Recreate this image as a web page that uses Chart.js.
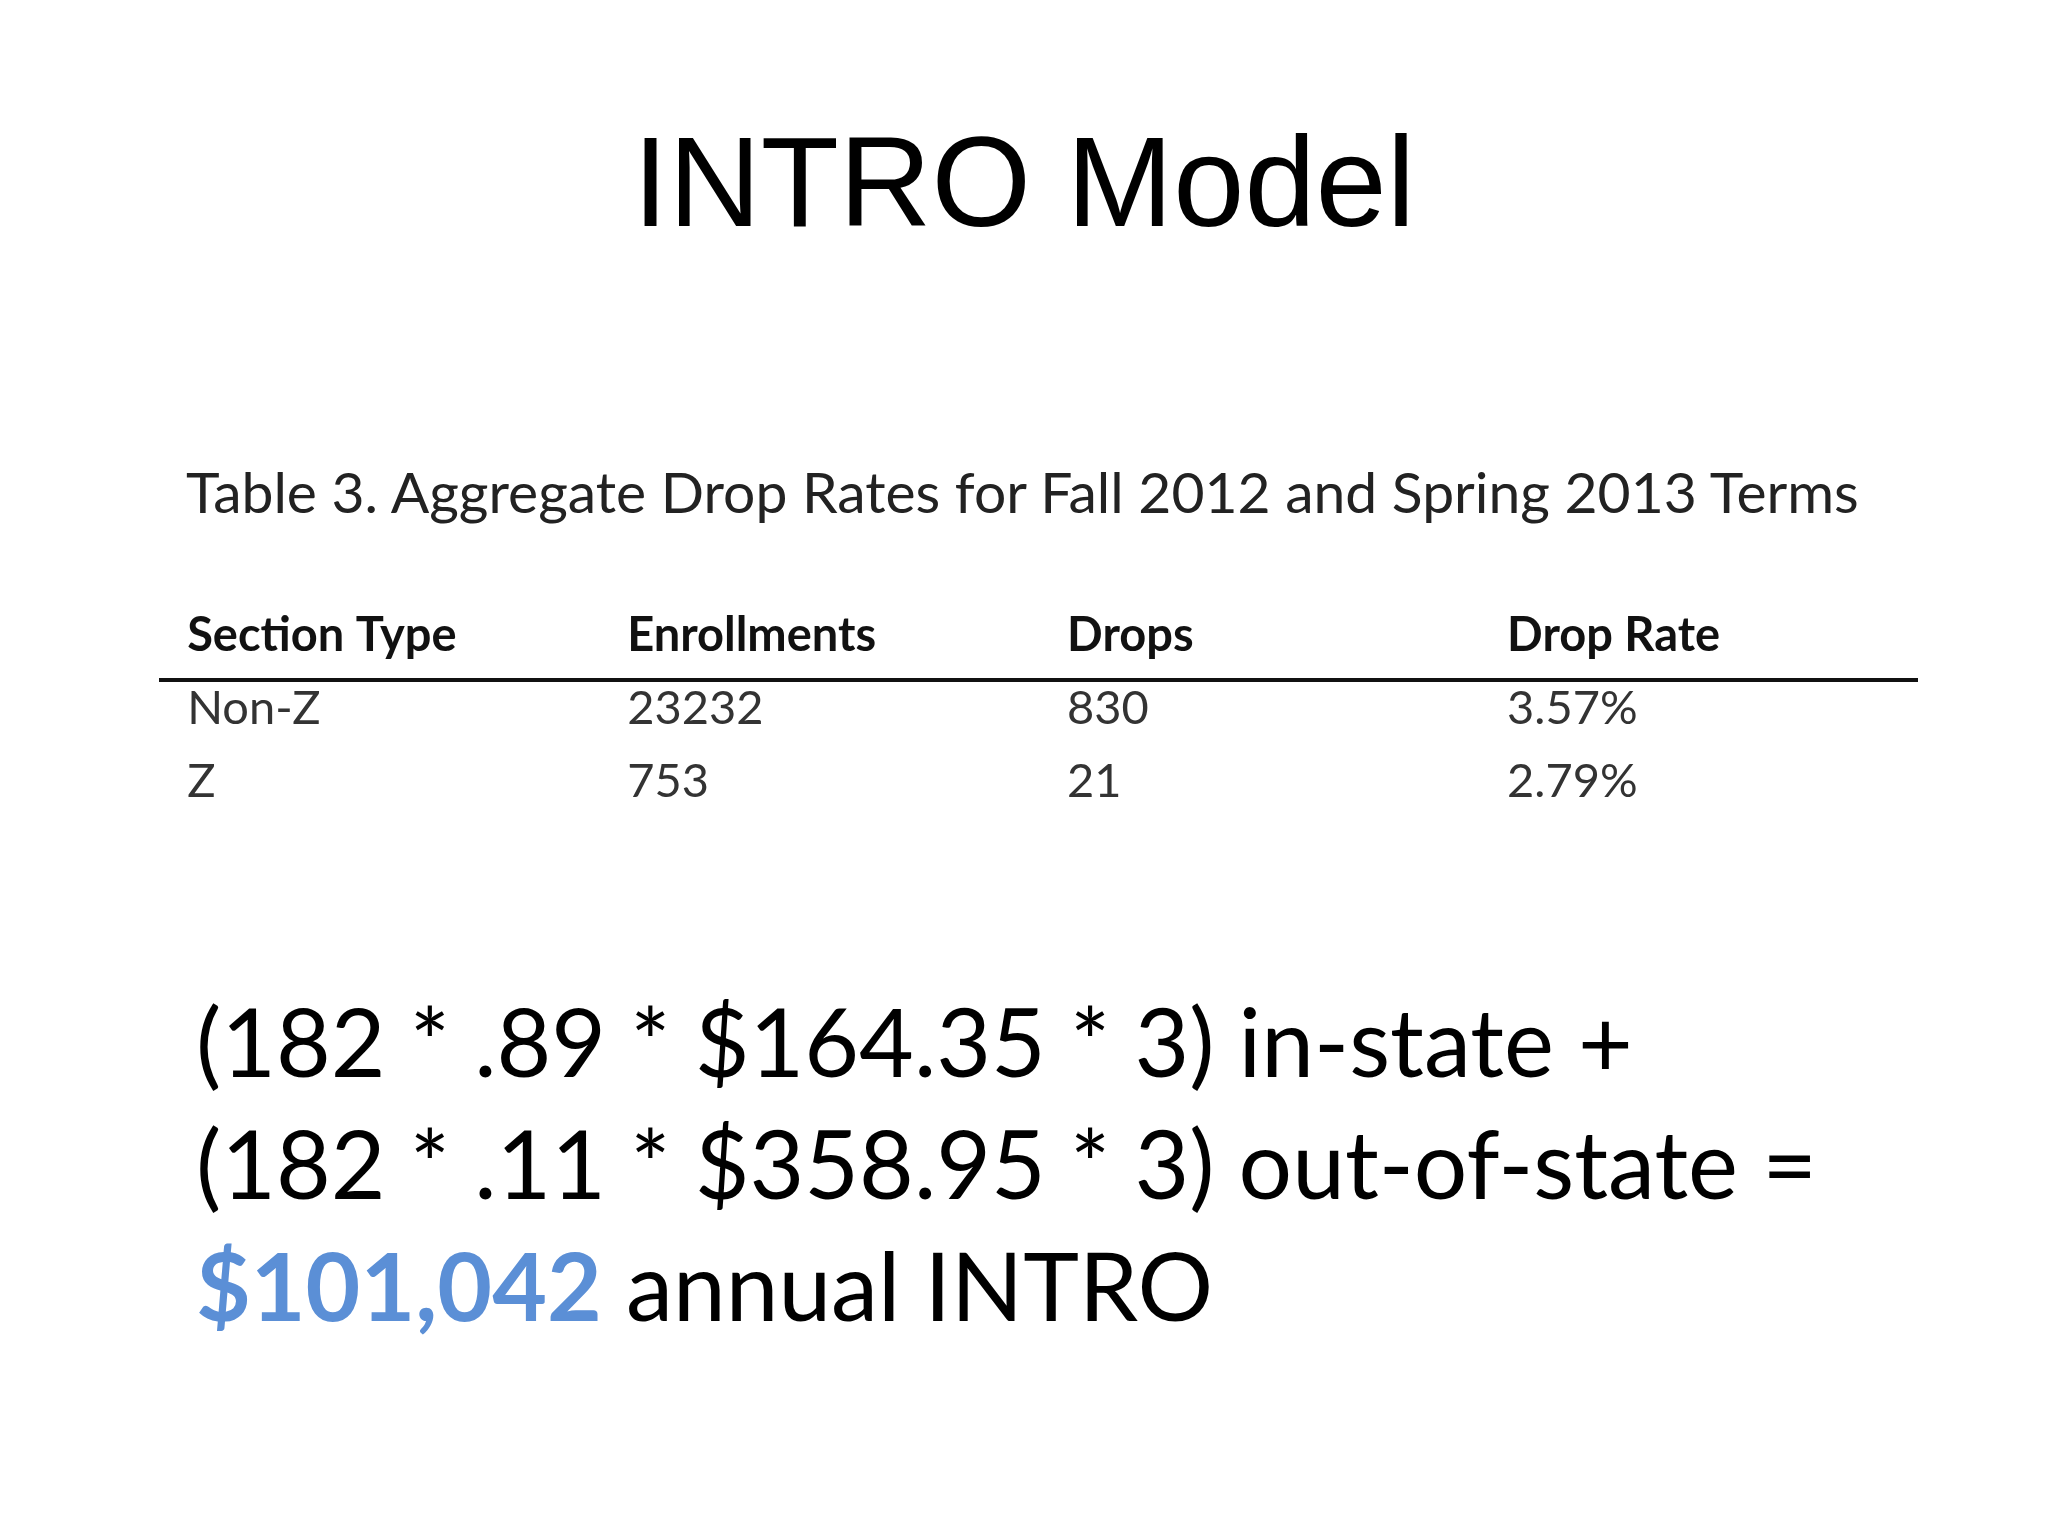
<!DOCTYPE html>
<html>
<head>
<meta charset="utf-8">
<script src="https://cdn.jsdelivr.net/npm/chart.js@4"></script>
<style>
  html, body { margin: 0; padding: 0; background: #fff; }
  body { width: 2048px; height: 1536px; position: relative; overflow: hidden; }
  #title { position: absolute; top: 108px; left: 0; width: 2048px; text-align: center;
           font-family: "Liberation Sans", Arial, sans-serif; font-size: 128px; color: #000; }
  #caption { position: absolute; top: 457px; left: 186px; font-family: Lato, sans-serif;
             font-size: 57px; color: #222; }
  #tableChart { position: absolute; left: 0; top: 596px; }
  #formula { position: absolute; top: 980px; left: 196px; font-family: Lato, sans-serif;
             font-size: 94.5px; line-height: 122px; color: #000; }
  .money { color: #5b8fd6; font-weight: bold; }
</style>
</head>
<body>
<div id="title">INTRO Model</div>
<div id="caption">Table 3. Aggregate Drop Rates for Fall 2012 and Spring 2013 Terms</div>
<canvas id="tableChart" width="2048" height="230"></canvas>
<div id="formula">
  (182 * .89 * $164.35 * 3) in-state +<br>
  (182 * .11 * $358.95 * 3) out-of-state =<br>
  <span class="money">$101,042</span> annual INTRO
</div>
<script>
const columns = ['Section Type', 'Enrollments', 'Drops', 'Drop Rate'];
const sectionTypes = ['Non-Z', 'Z'];
const enrollments = [23232, 753];
const drops = [830, 21];
const dropRates = ['3.57%', '2.79%'];

// one point per cell, header on row 0
const cells = [];
columns.forEach((c, i) => cells.push({ x: i, y: 0, text: c, bold: true }));
sectionTypes.forEach((s, r) => {
    const row = [s, String(enrollments[r]), String(drops[r]), dropRates[r]];
    row.forEach((t, i) => cells.push({ x: i, y: r + 1, text: t, bold: false }));
});

const cellText = {
    id: 'cellText',
    afterDatasetsDraw(chart) {
        const ctx = chart.ctx;
        const xs = chart.scales.x, ys = chart.scales.y;
        // rule under the header
        const ry = ys.getPixelForValue(0.6);
        ctx.save();
        ctx.strokeStyle = '#111';
        ctx.lineWidth = 4;
        ctx.beginPath();
        ctx.moveTo(xs.left, ry);
        ctx.lineTo(xs.right, ry);
        ctx.stroke();
        ctx.textBaseline = 'middle';
        ctx.textAlign = 'left';
        chart.getDatasetMeta(0).data.forEach((pt, i) => {
            const cell = cells[i];
            ctx.font = (cell.bold ? 'bold ' : '') + '47px Lato, sans-serif';
            ctx.fillStyle = cell.bold ? '#111' : '#333';
            ctx.fillText(cell.text, pt.x, pt.y);
        });
        ctx.restore();
    }
};

new Chart(document.getElementById('tableChart'), {
    type: 'scatter',
    data: { datasets: [{ data: cells, pointRadius: 0, pointHoverRadius: 0 }] },
    options: {
        responsive: false,
        animation: false,
        events: [],
        layout: { padding: { left: 159, right: 130, top: 0, bottom: 0 } },
        plugins: { legend: { display: false }, tooltip: { enabled: false } },
        scales: {
            x: { type: 'linear', min: -0.064, max: 3.934, display: false },
            y: { type: 'linear', min: -0.55, max: 2.6, reverse: true, display: false }
        }
    },
    plugins: [cellText]
});
</script>
</body>
</html>
